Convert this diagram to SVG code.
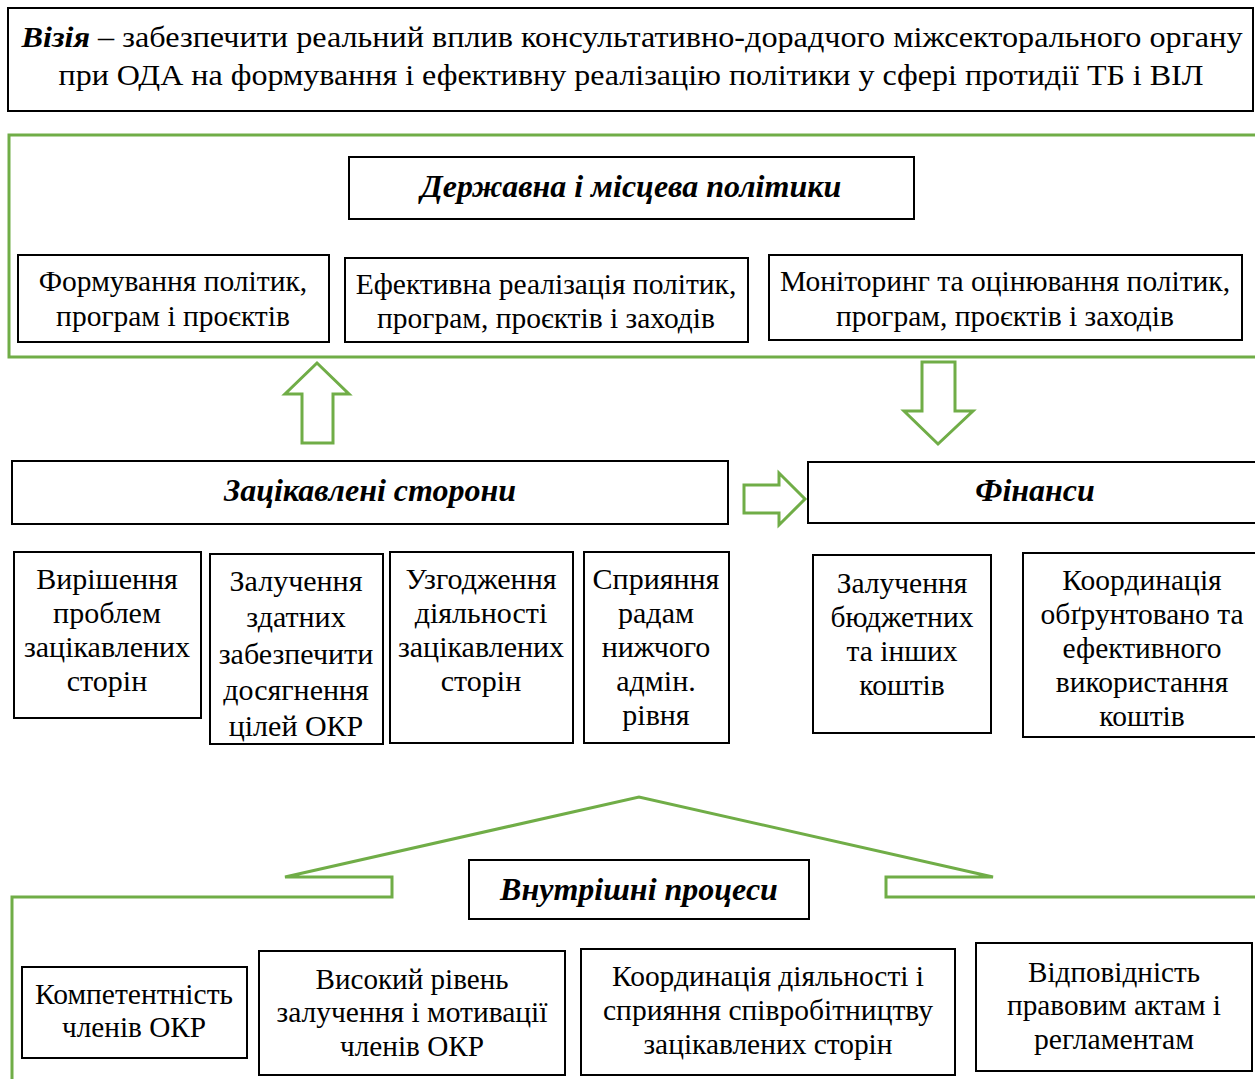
<svg xmlns="http://www.w3.org/2000/svg" width="1255" height="1079" viewBox="0 0 1255 1079">
<style>
.box{fill:#fff;stroke:#000;stroke-width:2}
.g{fill:none;stroke:#70AD47;stroke-width:3}
.ga{fill:#fff;stroke:#70AD47;stroke-width:3;stroke-linejoin:miter}
text{font-family:"Liberation Serif","Times New Roman",serif;fill:#000;text-anchor:middle}
.t{font-size:29.5px}
.s{font-size:30px}
.c{font-size:30px}
.h{font-size:32px;font-weight:bold;font-style:italic}
</style>
<rect width="1255" height="1079" fill="#fff"/>
<g id="vision">
<rect class="box" x="8" y="8" width="1245" height="103"/>
<text class="c" x="632" y="47" textLength="1221" lengthAdjust="spacingAndGlyphs"><tspan font-weight="bold" font-style="italic">Візія</tspan> – забезпечити реальний вплив консультативно-дорадчого міжсекторального органу</text>
<text class="c" x="631" y="85" textLength="1145" lengthAdjust="spacingAndGlyphs">при ОДА на формування і ефективну реалізацію політики у сфері протидії ТБ і ВІЛ</text>
</g>
<g id="frames">
<polyline class="g" points="1256,135 9,135 9,357 1256,357"/>
<polyline class="g" points="12,1080 12,897 392,897 392,877 285,877 639,797 993,877 886,877 886,897 1256,897"/>
</g>
<g id="policy">
<rect class="box" x="349" y="157" width="565" height="62"/>
<text class="h" x="631" y="197">Державна і місцева політики</text>
</g>
<g id="p1">
<rect class="box" x="18" y="255" width="311" height="87"/>
<text class="t" x="173" y="291">Формування політик,</text>
<text class="t" x="173" y="326">програм і проєктів</text>
</g>
<g id="p2">
<rect class="box" x="345" y="258" width="403" height="84"/>
<text class="t" x="546" y="294">Ефективна реалізація політик,</text>
<text class="t" x="546" y="328">програм, проєктів і заходів</text>
</g>
<g id="p3">
<rect class="box" x="769" y="255" width="473" height="85"/>
<text class="t" x="1005" y="291">Моніторинг та оцінювання політик,</text>
<text class="t" x="1005" y="326">програм, проєктів і заходів</text>
</g>
<g id="connectors">
<polygon class="ga" points="317,363 349,394 333,394 333,443 302,443 302,394 285,394"/>
<polygon class="ga" points="922,362 955,362 955,411 973,411 938,444 904,411 922,411"/>
<polygon class="ga" points="744,485 779,485 779,473 805,499 779,525 779,513 744,513"/>
</g>
<g id="stakeholders">
<rect class="box" x="12" y="461" width="716" height="63"/>
<text class="h" x="370" y="501">Зацікавлені сторони</text>
</g>
<g id="finance">
<rect class="box" x="808" y="462" width="450" height="61"/>
<text class="h" x="1035" y="501">Фінанси</text>
</g>
<g id="s1">
<rect class="box" x="14" y="552" width="187" height="166"/>
<text class="s" x="107" y="589">Вирішення</text>
<text class="s" x="107" y="623">проблем</text>
<text class="s" x="107" y="657">зацікавлених</text>
<text class="s" x="107" y="691">сторін</text>
</g>
<g id="s2">
<rect class="box" x="210" y="554" width="173" height="190"/>
<text class="s" x="296" y="591">Залучення</text>
<text class="s" x="296" y="627">здатних</text>
<text class="s" x="296" y="664">забезпечити</text>
<text class="s" x="296" y="700">досягнення</text>
<text class="s" x="296" y="736">цілей ОКР</text>
</g>
<g id="s3">
<rect class="box" x="390" y="552" width="183" height="191"/>
<text class="s" x="481" y="589">Узгодження</text>
<text class="s" x="481" y="623">діяльності</text>
<text class="s" x="481" y="657">зацікавлених</text>
<text class="s" x="481" y="691">сторін</text>
</g>
<g id="s4">
<rect class="box" x="584" y="552" width="145" height="191"/>
<text class="s" x="656" y="589">Сприяння</text>
<text class="s" x="656" y="623">радам</text>
<text class="s" x="656" y="657">нижчого</text>
<text class="s" x="656" y="691">адмін.</text>
<text class="s" x="656" y="725">рівня</text>
</g>
<g id="f1">
<rect class="box" x="813" y="555" width="178" height="178"/>
<text class="t" x="902" y="593">Залучення</text>
<text class="t" x="902" y="627">бюджетних</text>
<text class="t" x="902" y="661">та інших</text>
<text class="t" x="902" y="695">коштів</text>
</g>
<g id="f2">
<rect class="box" x="1023" y="553" width="235" height="184"/>
<text class="t" x="1142" y="590">Координація</text>
<text class="t" x="1142" y="624">обґрунтовано та</text>
<text class="t" x="1142" y="658">ефективного</text>
<text class="t" x="1142" y="692">використання</text>
<text class="t" x="1142" y="726">коштів</text>
</g>
<g id="internal">
<rect class="box" x="469" y="860" width="340" height="59"/>
<text class="h" x="639" y="900">Внутрішні процеси</text>
</g>
<g id="i1">
<rect class="box" x="22" y="967" width="225" height="91"/>
<text class="c" x="134" y="1004" textLength="198" lengthAdjust="spacingAndGlyphs">Компетентність</text>
<text class="c" x="134" y="1037" textLength="144" lengthAdjust="spacingAndGlyphs">членів ОКР</text>
</g>
<g id="i2">
<rect class="box" x="259" y="951" width="306" height="124"/>
<text class="c" x="412" y="989" textLength="193" lengthAdjust="spacingAndGlyphs">Високий рівень</text>
<text class="c" x="412" y="1022" textLength="271" lengthAdjust="spacingAndGlyphs">залучення і мотивації</text>
<text class="c" x="412" y="1056" textLength="144" lengthAdjust="spacingAndGlyphs">членів ОКР</text>
</g>
<g id="i3">
<rect class="box" x="581" y="949" width="374" height="126"/>
<text class="c" x="768" y="986" textLength="312" lengthAdjust="spacingAndGlyphs">Координація діяльності і</text>
<text class="c" x="768" y="1020" textLength="330" lengthAdjust="spacingAndGlyphs">сприяння співробітництву</text>
<text class="c" x="768" y="1054" textLength="249" lengthAdjust="spacingAndGlyphs">зацікавлених сторін</text>
</g>
<g id="i4">
<rect class="box" x="976" y="943" width="276" height="128"/>
<text class="c" x="1114" y="982" textLength="172" lengthAdjust="spacingAndGlyphs">Відповідність</text>
<text class="c" x="1114" y="1015" textLength="214" lengthAdjust="spacingAndGlyphs">правовим актам і</text>
<text class="c" x="1114" y="1049" textLength="160" lengthAdjust="spacingAndGlyphs">регламентам</text>
</g>
</svg>
